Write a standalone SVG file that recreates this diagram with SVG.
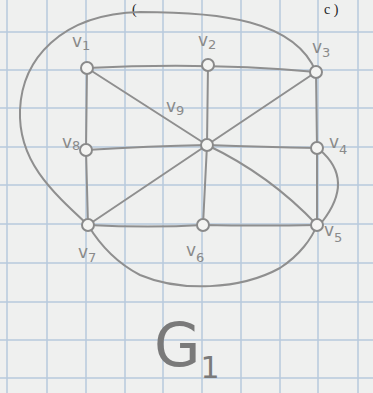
<svg xmlns="http://www.w3.org/2000/svg" width="373" height="393" viewBox="0 0 373 393">
<defs>
<style>
.grid line{stroke:#b7cadd;stroke-width:1.5}
.e{fill:none;stroke:#8f8f8f;stroke-width:2;stroke-linecap:round}
.n{fill:#f4f4f2;stroke:#8a8a8a;stroke-width:2}
.lb{font-family:"DejaVu Sans",sans-serif;font-size:17px;fill:#8a8a8a}
.sb{font-size:13px}
.ink{font-family:"Liberation Serif",serif;fill:#222;font-size:14px}
.big{font-family:"DejaVu Sans",sans-serif;font-size:60px;fill:#7a7a7a}
</style>
</defs>
<rect width="373" height="393" fill="#eff0ef"/>
<g class="grid">
<line x1="7" y1="0" x2="7" y2="393"/><line x1="47" y1="0" x2="47" y2="393"/><line x1="86" y1="0" x2="86" y2="393"/><line x1="125" y1="0" x2="125" y2="393"/><line x1="163" y1="0" x2="163" y2="393"/><line x1="202" y1="0" x2="202" y2="393"/><line x1="241" y1="0" x2="241" y2="393"/><line x1="280" y1="0" x2="280" y2="393"/><line x1="318" y1="0" x2="318" y2="393"/><line x1="358" y1="0" x2="358" y2="393"/>
<line x1="0" y1="32" x2="373" y2="32"/><line x1="0" y1="70" x2="373" y2="70"/><line x1="0" y1="108" x2="373" y2="108"/><line x1="0" y1="147" x2="373" y2="147"/><line x1="0" y1="185" x2="373" y2="185"/><line x1="0" y1="224" x2="373" y2="224"/><line x1="0" y1="263" x2="373" y2="263"/><line x1="0" y1="302" x2="373" y2="302"/><line x1="0" y1="340" x2="373" y2="340"/><line x1="0" y1="378" x2="373" y2="378"/>
</g>
<text class="ink" x="132" y="14">(</text>
<text class="ink" x="324" y="14">c )</text>
<g id="edges">
<path class="e" d="M87 68 Q208 62 316 72"/>
<line class="e" x1="87" y1="68" x2="207" y2="145"/>
<line class="e" x1="316" y1="72" x2="207" y2="145"/>
<line class="e" x1="208" y1="65" x2="207" y2="145"/>
<line class="e" x1="87" y1="68" x2="86" y2="150"/>
<path class="e" d="M86 150 Q150 146 207 145 Q265 147 317 148"/>
<line class="e" x1="86" y1="150" x2="88" y2="225"/>
<line class="e" x1="88" y1="225" x2="207" y2="145"/>
<line class="e" x1="207" y1="145" x2="203" y2="225"/>
<path class="e" d="M207 145 Q270 175 317 225"/>
<path class="e" d="M88 225 Q150 228 203 225 Q260 226 317 225"/>
<line class="e" x1="316" y1="72" x2="317" y2="148"/>
<line class="e" x1="317" y1="148" x2="317" y2="225"/>
<path class="e" d="M320 150 Q355 180 322 222"/>
<path class="e" d="M316 72 C295 20 220 12 140 12 C60 14 22 60 20 110 C18 160 50 190 88 225"/>
<path class="e" d="M88 225 C100 245 115 262 140 275 C180 292 240 290 280 268 C300 255 312 238 317 225"/>
</g>
<g id="v1"><circle class="n" cx="87" cy="68" r="6"/><text class="lb" x="72" y="47">v<tspan class="sb" dy="3">1</tspan></text></g>
<g id="v2"><circle class="n" cx="208" cy="65" r="6"/><text class="lb" x="198" y="46">v<tspan class="sb" dy="3">2</tspan></text></g>
<g id="v3"><circle class="n" cx="316" cy="72" r="6"/><text class="lb" x="312" y="53">v<tspan class="sb" dy="4">3</tspan></text></g>
<g id="v8"><circle class="n" cx="86" cy="150" r="6"/><text class="lb" x="62" y="148">v<tspan class="sb" dy="2">8</tspan></text></g>
<g id="v9"><circle class="n" cx="207" cy="145" r="6"/><text class="lb" x="166" y="112">v<tspan class="sb" dy="3">9</tspan></text></g>
<g id="v4"><circle class="n" cx="317" cy="148" r="6"/><text class="lb" x="329" y="148">v<tspan class="sb" dy="6">4</tspan></text></g>
<g id="v7"><circle class="n" cx="88" cy="225" r="6"/><text class="lb" x="78" y="258">v<tspan class="sb" dy="4">7</tspan></text></g>
<g id="v6"><circle class="n" cx="203" cy="225" r="6"/><text class="lb" x="186" y="256">v<tspan class="sb" dy="6">6</tspan></text></g>
<g id="v5"><circle class="n" cx="317" cy="225" r="6"/><text class="lb" x="324" y="236">v<tspan class="sb" dy="6">5</tspan></text></g>
<text class="big" x="154" y="366">G<tspan style="font-size:30px" dy="12">1</tspan></text>
</svg>
